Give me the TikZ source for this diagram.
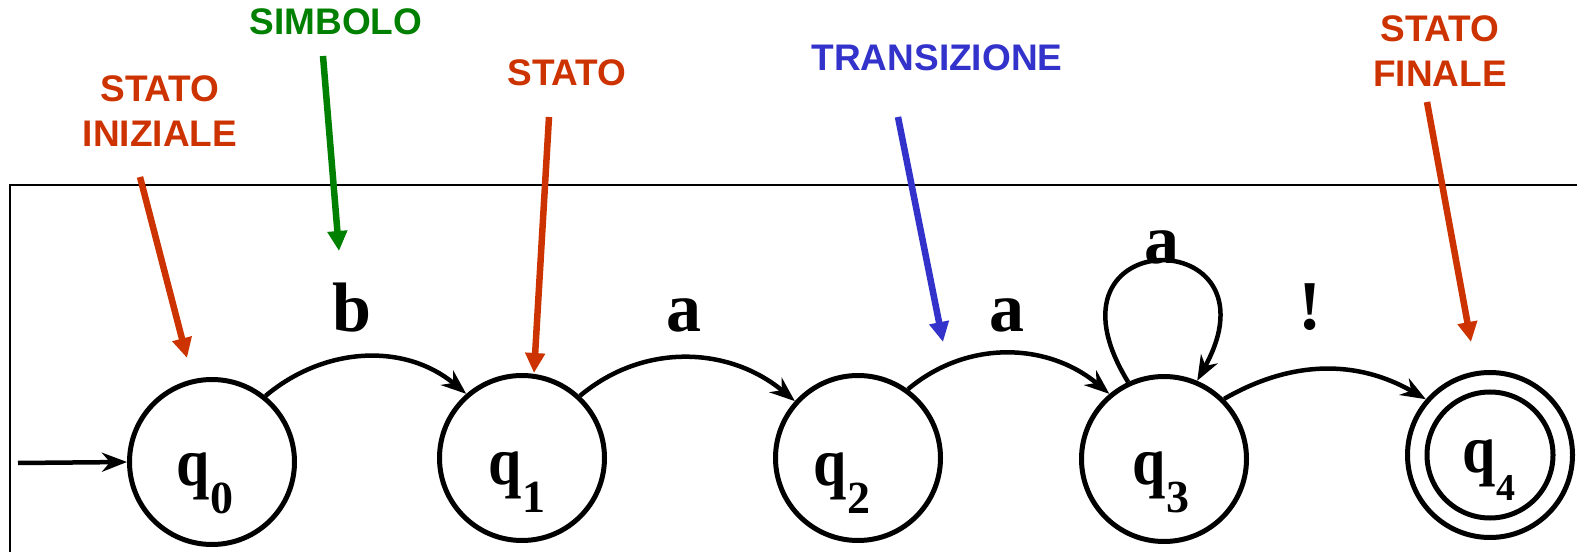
\documentclass[tikz,border=0pt]{standalone}
\usepackage{fontspec}
\setmainfont{Liberation Serif}
\newfontfamily\annfont{Liberation Sans}
\usetikzlibrary{arrows.meta}
\definecolor{annred}{RGB}{204,51,0}
\definecolor{anngreen}{RGB}{0,128,0}
\definecolor{annblue}{RGB}{51,51,204}
\newcommand{\stlbl}[2][46]{\scalebox{0.88}[1]{\fontsize{68}{68}\selectfont q}\raisebox{-28pt}{\fontsize{#1}{#1}\selectfont #2}}
\begin{document}
\begin{tikzpicture}[x=1pt,y=1pt,
 state/.style={circle,draw,line width=5pt,minimum size=165pt,inner sep=0pt},
 qlab/.style={anchor=base,inner sep=0pt,font=\bfseries},
 edge/.style={line width=4.5pt,-{Stealth[length=25pt,width=19pt,inset=8pt]}},
 elab/.style={inner sep=0pt,anchor=base,font=\bfseries\fontsize{70}{70}\selectfont},
 ann/.style={line width=6.5pt,-{Triangle[length=20pt,width=19pt]}},
 anntext/.style={inner sep=0pt,align=center,font=\annfont\bfseries\fontsize{37}{45}\selectfont},
 frame/.style={line width=1.5pt}]
\useasboundingbox (0,0) rectangle (1577,552);
\fill[white] (0,0) rectangle (1577,552);
% frame
\draw[frame] (10,0) -- (10,367) -- (1577,367);
% states
\node[state] (q0) at (212,90) {};
\node[state] (q1) at (522,94) {};
\node[state] (q2) at (858,94) {};
\node[state] (q3) at (1164,93) {};
\node[state] (q4) at (1490,97) {};
\draw[line width=5pt] (q4.center) circle[radius=63];
% state labels
\node[qlab] (l0) at (205,67) {\stlbl{0}};
\node[qlab] (l1) at (517,68) {\stlbl{1}};
\node[qlab] (l2) at (842,67) {\stlbl{2}};
\node[qlab] (l3) at (1161,68) {\stlbl{3}};
\node[qlab] (l4) at (1489,80) {\stlbl[38]{4}};
% initial arrow
\coordinate (init) at (18,89);
\draw[edge] (init) -- (q0.west);
% transitions
\draw[edge] (q0.51) to[out=40,in=140] (q1.131);
\draw[edge] (q1.47) to[out=40,in=140] (q2.138);
\draw[edge] (q2.54) to[out=40,in=140] (q3.130);
\draw[edge] (q3.45) to[out=30,in=150] (q4.139);
\draw[edge] (q3.115) .. controls (1030,330) and (1285,330) .. (q3.67);
% transition labels
\node[elab] (eb) at (352,220) {b};
\node[elab] (ea1) at (684,220) {a};
\node[elab] (ea2) at (1007,220) {a};
\node[elab] (ea3) at (1162,288) {a};
\node[elab] (eex) at (1310,222) {!};
% annotations
\node[anntext,text=annred] (tini) at (160,441) {STATO\\INIZIALE};
\node[anntext,text=anngreen] (tsim) at (336,530) {SIMBOLO};
\node[anntext,text=annred] (tsta) at (567,479) {STATO};
\node[anntext,text=annblue] (ttra) at (937,494) {TRANSIZIONE};
\node[anntext,text=annred] (tfin) at (1440,501) {STATO\\FINALE};
\coordinate (aini1) at (140,375); \coordinate (aini2) at (187,194);
\coordinate (asim1) at (323,496); \coordinate (asim2) at (339,301);
\coordinate (asta1) at (549,435); \coordinate (asta2) at (534,179);
\coordinate (atra1) at (898,435); \coordinate (atra2) at (943,210);
\coordinate (afin1) at (1427,450); \coordinate (afin2) at (1471,210);
\draw[ann,annred] (aini1) -- (aini2);
\draw[ann,anngreen] (asim1) -- (asim2);
\draw[ann,annred] (asta1) -- (asta2);
\draw[ann,annblue] (atra1) -- (atra2);
\draw[ann,annred] (afin1) -- (afin2);
\end{tikzpicture}
\end{document}
